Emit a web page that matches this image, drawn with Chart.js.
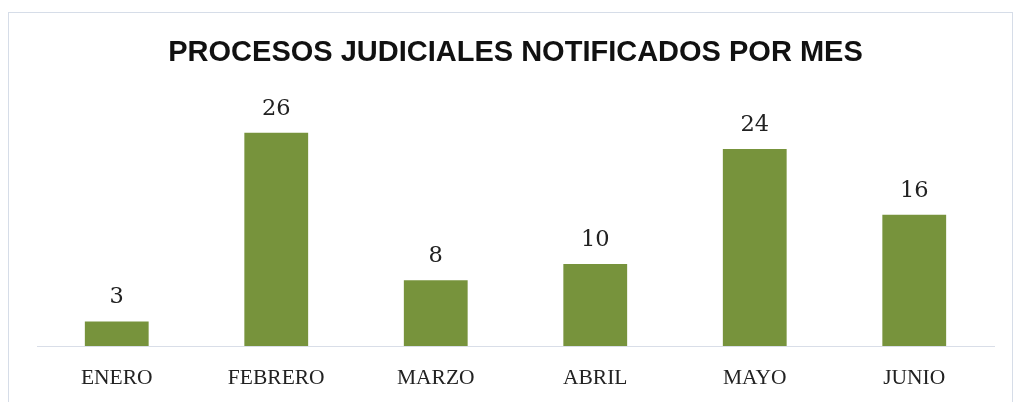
<!DOCTYPE html>
<html>
<head>
<meta charset="utf-8">
<script src="https://cdn.jsdelivr.net/npm/chart.js@4.4.0/dist/chart.umd.min.js"></script>
<style>
    html, body { margin: 0; padding: 0; background: #ffffff; }
    #wrap { position: relative; width: 1013px; height: 402px; overflow: hidden; }
    #frame {
        position: absolute; left: 8px; top: 12px; width: 1003px; height: 400px;
        border: 1px solid #d6dde8; border-bottom: none; pointer-events: none;
    }
    #chart { position: absolute; left: 0; top: 0; }
</style>
</head>
<body>
<div id="wrap">
    <div id="frame"></div>
    <canvas id="chart" width="1013" height="402"></canvas>
</div>
<script>
// Data
const months = ['ENERO', 'FEBRERO', 'MARZO', 'ABRIL', 'MAYO', 'JUNIO'];
const processCounts = [3, 26, 8, 10, 24, 16];

const colors = {
    bar: '#77933c',
    text: '#222222',
    axis: '#d9dee8'
};

// draw value labels above each bar
const valueLabels = {
    id: 'valueLabels',
    afterDatasetsDraw(chart) {
        const ctx = chart.ctx;
        const meta = chart.getDatasetMeta(0);
        ctx.save();
        ctx.font = "22.5px 'DejaVu Serif'";
        ctx.fillStyle = colors.text;
        ctx.textAlign = 'center';
        ctx.textBaseline = 'alphabetic';
        meta.data.forEach((bar, i) => {
            ctx.fillText(String(processCounts[i]), bar.x, bar.y - 18);
        });
        ctx.restore();
    }
};

const ctx = document.getElementById('chart').getContext('2d');
new Chart(ctx, {
    type: 'bar',
    data: {
        labels: months,
        datasets: [{
            label: 'Procesos',
            data: processCounts,
            backgroundColor: colors.bar,
            borderWidth: 0,
            barPercentage: 0.8,
            categoryPercentage: 0.5
        }]
    },
    options: {
        responsive: false,
        animation: false,
        layout: {
            padding: { left: 37, right: 19, top: 0, bottom: 11 }
        },
        plugins: {
            legend: { display: false },
            tooltip: { enabled: false },
            title: {
                display: true,
                text: 'PROCESOS JUDICIALES NOTIFICADOS POR MES',
                color: '#111111',
                font: { family: "'Liberation Sans', Arial, sans-serif", size: 29, weight: 'bold' },
                padding: { top: 36, bottom: 29 }
            }
        },
        scales: {
            x: {
                grid: { display: false, drawTicks: false },
                border: { display: true, color: colors.axis, width: 1 },
                ticks: {
                    color: colors.text,
                    padding: 19,
                    font: { family: "'Liberation Serif', serif", size: 21.5 }
                },
                afterFit: (scale) => { scale.height = 45; }
            },
            y: {
                display: false,
                min: 0,
                max: 30
            }
        }
    },
    plugins: [valueLabels]
});
</script>
</body>
</html>
